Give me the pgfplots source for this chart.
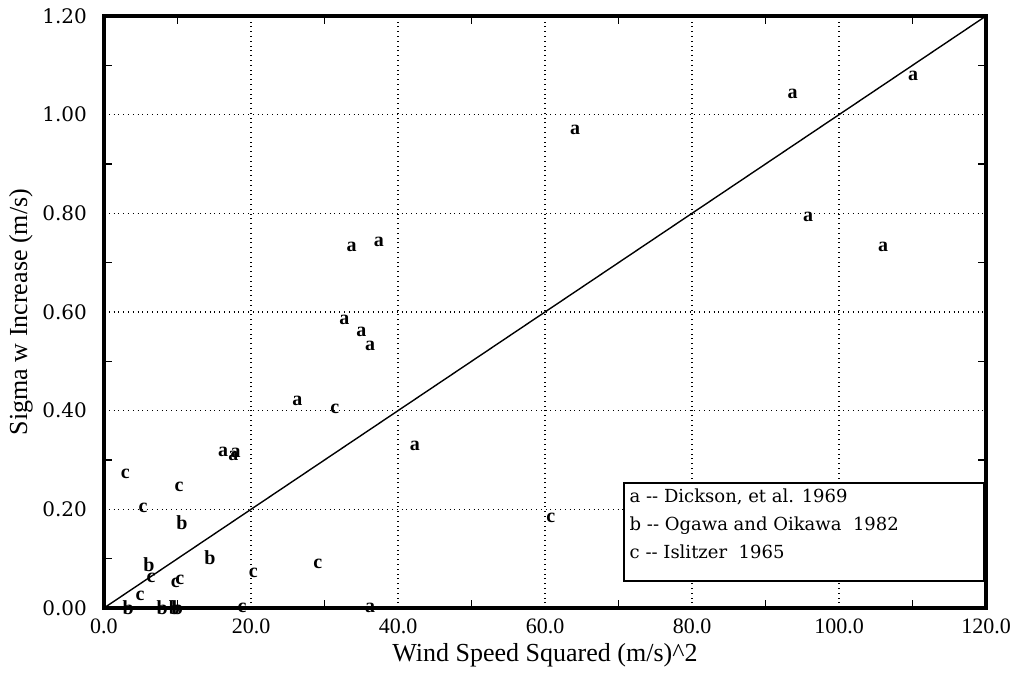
\documentclass[border=0pt]{standalone}
\usepackage{pgfplots}
\pgfplotsset{compat=1.18}
\usepackage{fontspec}
\setmainfont{Liberation Serif}
\newfontfamily\schfont{DejaVu Serif}
\begin{document}
\begin{tikzpicture}
\begin{axis}[
  scale only axis, width=441pt, height=296pt,
  xmin=0, xmax=120, ymin=0, ymax=1.2,
  xtick={0,20,40,60,80,100,120},
  ytick={0,0.2,0.4,0.6,0.8,1.0,1.2},
  minor x tick num=1, minor y tick num=1,
  tick align=inside,
  major tick length=0pt, minor tick length=4pt,
  tick style={black, line width=0.6pt},
  grid=major,
  major grid style={black, dotted, line width=0.7pt},
  axis line style={black, line width=1.7pt},
  /pgf/number format/assume math mode=true,
  xticklabel style={font=\fontsize{11}{13}\selectfont, /pgf/number format/fixed, /pgf/number format/fixed zerofill, /pgf/number format/precision=1, yshift=-2pt},
  yticklabel style={font=\schfont\fontsize{10}{12}\selectfont, /pgf/number format/fixed, /pgf/number format/fixed zerofill, /pgf/number format/precision=2, xshift=-5pt},
  xlabel={Wind Speed Squared (m/s)\textasciicircum 2},
  ylabel={Sigma w Increase (m/s)},
  label style={font=\fontsize{13}{15}\selectfont},
  xlabel style={yshift=2pt},
  ylabel style={yshift=-2pt},
  legend image code/.code={},
  legend style={at={(axis cs:70.6,0.255)}, anchor=north west, draw=black, line width=0.8pt,
    font=\schfont\fontsize{9}{11}\selectfont, inner sep=1pt, row sep=1.5pt},
  legend cell align=left,
  every axis plot/.append style={text mark as node=true, text mark style={font=\bfseries\fontsize{10}{11}\selectfont, inner sep=0pt}},
]
\addplot[only marks, mark=text, text mark={a}] coordinates {
 (110.1,1.078) (93.7,1.042) (64.1,0.969) (95.8,0.792) (106.0,0.732)
 (33.7,0.731) (37.4,0.742) (32.7,0.584) (35.0,0.560) (36.2,0.531)
 (26.3,0.419) (42.3,0.328) (16.2,0.316) (17.6,0.308) (17.9,0.314)
 (36.2,0.0)
};
\addlegendentry{\makebox[174pt][l]{a -- Dickson, et al. 1969}}
\addplot[only marks, mark=text, text mark={b}] coordinates {
 (10.6,0.172) (14.4,0.103) (6.1,0.087) (3.3,0.0) (7.9,0.0) (9.6,0.0) (10.0,0.0)
};
\addlegendentry{b -- Ogawa and Oikawa\ \ 1982}
\addplot[only marks, mark=text, text mark={c}] coordinates {
 (2.9,0.271) (10.2,0.245) (5.3,0.202) (31.4,0.403) (6.4,0.062) (4.9,0.024)
 (10.3,0.058) (9.7,0.050) (20.3,0.072) (29.1,0.090) (18.8,0.0) (60.8,0.182)
};
\addlegendentry{c -- Islitzer\ \ 1965}
\addlegendimage{empty legend}
\addlegendentry{}
\addplot[black, line width=0.7pt, mark=none] coordinates {(0,0) (120,1.2)};
\end{axis}
\pgfresetboundingbox
\path[use as bounding box] ([shift={(-52pt,-36pt)}]current axis.south west) rectangle ([shift={(15pt,8pt)}]current axis.north east);
\end{tikzpicture}
\end{document}
